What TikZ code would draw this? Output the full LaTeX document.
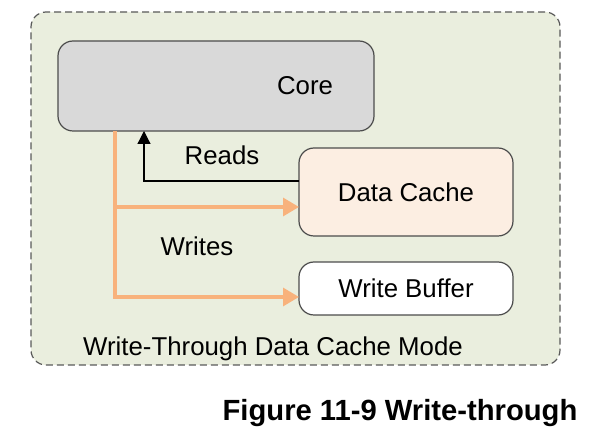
\documentclass[tikz,border=0pt]{standalone}
\usepackage{fontspec}
\setmainfont{Liberation Sans}
\usetikzlibrary{arrows.meta}
\definecolor{modebg}{RGB}{234,238,222}
\definecolor{coregray}{RGB}{217,217,217}
\definecolor{cachefill}{RGB}{252,238,226}
\definecolor{wrorange}{RGB}{248,178,124}
\begin{document}
\begin{tikzpicture}[x=0.5pt,y=-0.5pt,
  box/.style={draw=black!70,rounded corners=7.5pt,line width=0.6pt},
  lbl/.style={font=\fontsize{12.9}{15}\selectfont},
  wline/.style={draw=wrorange,line width=1.7pt,-{Triangle[length=8pt,width=9pt]}},
  rline/.style={draw=black,line width=0.6pt,-{Triangle[length=6.5pt,width=6.5pt]}}]
  \useasboundingbox (0,0) rectangle (590,438);
  % outer mode frame
  \node[box,dash pattern=on 3.5pt off 2pt,draw=black!65,fill=modebg,minimum width=264.5pt,minimum height=176.5pt] (mode) at (295.5,188.5) {};
  \node[box,fill=coregray,minimum width=158pt,minimum height=45pt] (core) at (216,86) {};
  \node[lbl] (corelbl) at (305,86) {Core};
  \node[box,fill=cachefill,minimum width=107pt,minimum height=44pt,lbl] (dcache) at (406,192) {Data Cache};
  \node[box,fill=white,minimum width=107pt,minimum height=26.5pt,lbl] (wbuf) at (406,288.5) {Write Buffer};
  % tap points
  \coordinate (wtap) at (115,131);
  \coordinate (rtap) at (144,131);
  \coordinate (dcin) at (299,207);
  \coordinate (dcout) at (299,181);
  \coordinate (wbin) at (299,297);
  \draw[wline] (wtap) |- (dcin);
  \draw[wline] (wtap) |- (wbin);
  \draw[rline] (dcout) -| (rtap);
  \node[lbl] (reads) at (222,155) {Reads};
  \node[lbl] (writes) at (197,246) {Writes};
  \node[lbl] (modelbl) at (273,349) {Write-Through Data Cache Mode};
  \node[font=\fontsize{14.6}{17}\selectfont\bfseries] (caption) at (400,413) {Figure 11-9 Write-through};
\end{tikzpicture}
\end{document}
